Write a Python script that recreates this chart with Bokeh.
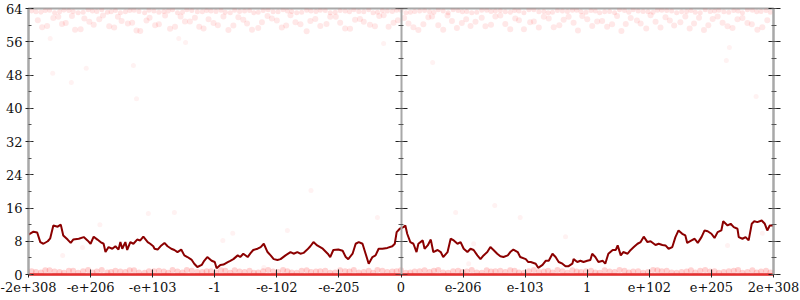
from bokeh.plotting import figure
from bokeh.models import LinearAxis, FixedTicker, SingleIntervalTicker, Range1d
from bokeh.embed import file_html
from bokeh.resources import INLINE

# x axis: float values ordered by bit pattern, shown as 12 equal steps
tick_pos = [-6, -5, -4, -3, -2, -1, 0, 1, 2, 3, 4, 5, 6]
tick_labels = ["-2e+308", "-e+206", "-e+103", "-1", "-e-102", "-e-205", "0",
               "e-206", "e-103", "1", "e+102", "e+205", "2e+308"]

# dark running line
line_x = [-6.00, -5.92, -5.86, -5.81, -5.76, -5.69, -5.65, -5.60, -5.53, -5.48,
          -5.44, -5.37, -5.32, -5.28, -5.19, -5.11, -5.05, -5.00, -4.95, -4.89,
          -4.84, -4.79, -4.76, -4.71, -4.65, -4.60, -4.55, -4.52, -4.49, -4.44,
          -4.41, -4.36, -4.31, -4.25, -4.20, -4.15, -4.08, -4.04, -3.99,
          -3.97, -3.92, -3.86, -3.81, -3.76, -3.70, -3.65, -3.60, -3.54, -3.49,
          -3.44, -3.37, -3.33, -3.28, -3.21, -3.17, -3.12, -3.05, -3.00, -2.97,
          -2.91, -2.86, -2.79, -2.75, -2.70, -2.63, -2.59, -2.54, -2.47, -2.42,
          -2.38, -2.31, -2.26, -2.21, -2.15, -2.10, -2.05, -1.99,
          -1.94, -1.86, -1.78, -1.73, -1.67, -1.62, -1.57, -1.51, -1.46, -1.41,
          -1.35, -1.26, -1.18, -1.14, -1.09, -1.01, -0.94, -0.89, -0.85, -0.78,
          -0.73, -0.68, -0.62, -0.57, -0.52, -0.46, -0.41, -0.36, -0.30, -0.22,
          -0.14, -0.10, -0.07, -0.02, 0.04,
          0.07, 0.10, 0.15, 0.20, 0.25, 0.28, 0.35, 0.38, 0.43, 0.48,
          0.52, 0.59, 0.64, 0.68, 0.75, 0.80, 0.85, 0.91, 0.96, 1.01,
          1.07, 1.12, 1.17, 1.23, 1.28, 1.33, 1.39, 1.44, 1.49, 1.55,
          1.60, 1.65, 1.72, 1.76, 1.81, 1.88, 1.92, 2.01, 2.05,
          2.09, 2.17, 2.21, 2.28, 2.33, 2.38, 2.44, 2.49, 2.54, 2.60,
          2.65, 2.70, 2.76, 2.78, 2.84, 2.89, 2.94, 3.00, 3.05, 3.08,
          3.13, 3.18, 3.25, 3.29, 3.34, 3.41, 3.46, 3.49, 3.54, 3.58,
          3.65, 3.70, 3.75, 3.81, 3.86, 3.91, 3.97, 4.02,
          4.10, 4.15, 4.21, 4.26, 4.31, 4.37, 4.42, 4.47, 4.53, 4.58,
          4.61, 4.68, 4.73, 4.78, 4.84, 4.89, 4.94, 5.00, 5.05, 5.10,
          5.16, 5.19, 5.26, 5.31, 5.36, 5.42, 5.44, 5.50, 5.55, 5.60,
          5.65, 5.69, 5.74, 5.81, 5.86, 5.90, 5.94, 6.00]
line_y = [9.6, 10.3, 10.1, 7.8, 7.4, 8.0, 8.7, 11.8, 11.5, 12.0,
          9.4, 8.4, 7.6, 8.4, 8.6, 9.0, 8.2, 7.4, 9.1, 8.4,
          7.8, 7.4, 5.4, 6.6, 6.2, 6.8, 6.0, 7.8, 6.2, 7.8,
          5.9, 7.8, 7.4, 8.4, 8.2, 9.1, 7.8, 7.4, 6.8,
          6.2, 6.0, 7.0, 7.6, 6.8, 6.2, 5.9, 5.4, 6.0, 4.6,
          4.2, 3.5, 2.6, 1.8, 2.3, 3.3, 4.2, 3.3, 3.0, 1.5,
          2.3, 2.4, 3.0, 3.3, 3.7, 4.6, 4.2, 5.0, 4.2, 5.2,
          5.9, 6.2, 6.6, 7.4, 5.4, 4.6, 3.7, 3.5,
          3.7, 4.6, 5.4, 5.0, 5.4, 5.0, 5.2, 6.0, 6.8, 7.8,
          7.0, 6.2, 5.0, 4.2, 5.9, 6.0, 5.7, 4.2, 3.7, 5.0,
          7.4, 7.8, 7.4, 5.0, 2.6, 4.2, 4.6, 6.2, 6.2, 6.4,
          6.8, 7.4, 10.2, 11.0, 11.4,
          11.8, 9.8, 7.8, 7.4, 5.4, 7.4, 8.2, 6.2, 7.0, 8.4,
          5.4, 5.9, 5.4, 4.2, 5.4, 8.6, 8.2, 7.4, 7.8, 6.2,
          5.4, 6.2, 5.9, 4.6, 3.7, 4.6, 5.4, 6.6, 5.9, 5.0,
          4.4, 4.2, 4.6, 5.4, 6.0, 5.4, 4.2, 3.7, 3.0,
          3.0, 2.6, 1.6, 2.3, 3.3, 3.3, 5.0, 4.2, 3.0, 2.6,
          2.0, 2.0, 2.6, 3.7, 3.0, 3.3, 3.0, 3.3, 3.5, 5.0,
          4.2, 3.0, 3.3, 2.6, 5.0, 5.9, 5.9, 7.0, 4.6, 5.4,
          5.0, 5.9, 6.6, 7.4, 7.8, 9.1, 7.8, 8.0,
          7.1, 7.4, 7.1, 7.0, 6.2, 6.6, 9.0, 10.6, 9.8, 9.4,
          7.6, 8.2, 8.6, 7.6, 9.0, 10.6, 10.4, 9.8, 8.8, 10.2,
          10.6, 12.8, 11.8, 12.2, 11.4, 11.0, 9.0, 8.6, 9.0, 8.2,
          12.2, 12.8, 12.6, 13.0, 12.2, 10.6, 11.8, 11.8]

# faint dots: rows near 0 and near 64
row_x = [-5.95, -5.8, -5.66, -5.5, -5.35, -5.2, -5.04, -4.9, -4.73, -4.6,
         -4.44, -4.3, -4.13, -3.98, -3.82, -3.68, -3.52, -3.37, -3.2, -3.06,
         -2.9, -2.75, -2.6, -2.44, -2.3, -2.14, -1.98, -1.83, -1.68, -1.52,
         -1.37, -1.22, -1.06, -0.9, -0.76, -0.6, -0.45, -0.3, -0.14, 0.0,
         0.15, 0.3, 0.46, 0.6, 0.76, 0.92, 1.06, 1.22, 1.38, 1.52,
         1.68, 1.83, 1.98, 2.14, 2.3, 2.44, 2.6, 2.76, 2.9, 3.06,
         3.2, 3.36, 3.52, 3.67, 3.82, 3.98, 4.13, 4.28, 4.44, 4.6,
         4.74, 4.9, 5.05, 5.2, 5.36, 5.5, 5.66, 5.8, 5.95]
row_x2 = [-5.88, -5.73, -5.58, -5.43, -5.28, -5.12, -4.97, -4.82, -4.67, -4.52,
          -4.37, -4.22, -4.06, -3.9, -3.75, -3.6, -3.45, -3.28, -3.13, -2.98,
          -2.83, -2.68, -2.52, -2.37, -2.22, -2.06, -1.9, -1.76, -1.6, -1.45,
          -1.3, -1.14, -0.98, -0.83, -0.68, -0.52, -0.38, -0.22, -0.07, 0.08,
          0.22, 0.38, 0.53, 0.68, 0.84, 0.99, 1.14, 1.3, 1.45, 1.6,
          1.76, 1.9, 2.06, 2.22, 2.37, 2.52, 2.68, 2.83, 2.98, 3.13,
          3.28, 3.44, 3.6, 3.74, 3.9, 4.06, 4.2, 4.36, 4.52, 4.67,
          4.82, 4.98, 5.12, 5.28, 5.43, 5.58, 5.73, 5.88]
bottom_y = [0.8, 0.5, 1.0, 0.6, 0.9, 0.4, 1.1, 0.7, 0.5, 0.9,
            0.6, 1.0, 0.4, 0.8, 0.7, 1.1, 0.5, 0.9, 0.6, 0.8,
            1.0, 0.4, 0.7, 0.9, 0.5, 1.1, 0.6, 0.8, 0.4, 1.0,
            0.7, 0.9, 0.5, 0.8, 1.1, 0.6, 0.4, 0.9, 0.7, 1.0,
            0.5, 0.8, 0.6, 1.1, 0.4, 0.9, 0.7, 0.5, 1.0, 0.8,
            0.6, 0.9, 0.4, 1.1, 0.7, 0.5, 0.8, 1.0, 0.6, 0.9,
            0.4, 0.7, 1.1, 0.5, 0.8, 0.6, 1.0, 0.9, 0.4, 0.7,
            0.5, 1.1, 0.8, 0.6, 0.9, 0.4, 1.0, 0.7, 0.5]
bottom_y2 = [0.6, 1.0, 0.7, 0.4, 0.9, 0.8, 0.5, 1.1, 0.6, 0.7,
             1.0, 0.5, 0.8, 0.9, 0.4, 0.7, 1.1, 0.6, 0.8, 0.5,
             0.9, 1.0, 0.6, 0.4, 0.8, 0.7, 1.1, 0.5, 0.9, 0.6,
             0.8, 0.4, 1.0, 0.7, 0.5, 0.9, 1.1, 0.6, 0.8, 0.4,
             0.7, 1.0, 0.9, 0.5, 0.8, 0.6, 1.1, 0.4, 0.7, 0.9,
             1.0, 0.5, 0.8, 0.6, 0.9, 1.1, 0.4, 0.7, 0.8, 0.5,
             1.0, 0.6, 0.9, 0.7, 0.4, 1.1, 0.8, 0.5, 0.6, 1.0,
             0.9, 0.7, 0.4, 0.8, 1.1, 0.6, 0.5, 0.9]
top_row_y = [63.4, 63.1, 63.6, 63.2, 63.5, 63.0, 63.7, 63.3, 63.1, 63.5,
             63.2, 63.6, 63.0, 63.4, 63.3, 63.7, 63.1, 63.5, 63.2, 63.4,
             63.6, 63.0, 63.3, 63.5, 63.1, 63.7, 63.2, 63.4, 63.0, 63.6,
             63.3, 63.5, 63.1, 63.4, 63.7, 63.2, 63.0, 63.5, 63.3, 63.6,
             63.1, 63.4, 63.2, 63.7, 63.0, 63.5, 63.3, 63.1, 63.6, 63.4,
             63.2, 63.5, 63.0, 63.7, 63.3, 63.1, 63.4, 63.6, 63.2, 63.5,
             63.0, 63.3, 63.7, 63.1, 63.4, 63.2, 63.6, 63.5, 63.0, 63.3,
             63.1, 63.7, 63.4, 63.2, 63.5, 63.0, 63.6, 63.3, 63.1]
top_row_y2 = [63.2, 63.5, 63.0, 63.6, 63.3, 63.1, 63.4, 63.7, 63.2, 63.0,
              63.5, 63.3, 63.6, 63.1, 63.4, 63.0, 63.7, 63.2, 63.5, 63.3,
              63.1, 63.6, 63.4, 63.0, 63.5, 63.2, 63.7, 63.3, 63.1, 63.4,
              63.6, 63.0, 63.5, 63.2, 63.3, 63.7, 63.1, 63.4, 63.6, 63.0,
              63.3, 63.5, 63.1, 63.4, 63.7, 63.2, 63.0, 63.6, 63.3, 63.5,
              63.1, 63.4, 63.7, 63.2, 63.0, 63.5, 63.3, 63.6, 63.1, 63.4,
              63.2, 63.0, 63.5, 63.7, 63.3, 63.1, 63.6, 63.4, 63.2, 63.5,
              63.0, 63.3, 63.6, 63.1, 63.4, 63.7, 63.2, 63.5]

cloud_x = [-5.85, -5.7, -5.52, -5.4, -5.25, -5.1, -4.95, -4.8, -4.62, -4.5,
           -4.33, -4.2, -4.05, -3.9, -3.72, -3.55, -3.4, -3.25, -3.1, -2.95,
           -2.78, -2.62, -2.48, -2.3, -2.15, -2.0, -1.85, -1.7, -1.52, -1.38,
           -1.2, -1.05, -0.9, -0.74, -0.6, -0.42, -0.28, -0.12, 0.05, 0.2,
           0.36, 0.5, 0.68, 0.82, 0.98, 1.12, 1.3, 1.45, 1.6, 1.76,
           1.9, 2.08, 2.22, 2.38, 2.55, 2.7, 2.85, 3.0, 3.16, 3.32,
           3.48, 3.62, 3.8, 3.95, 4.1, 4.26, 4.4, 4.58, 4.72, 4.88,
           5.02, 5.18, 5.34, 5.5, 5.65, 5.82]
cloud_y = [61.2, 59.8, 62.0, 60.5, 58.9, 61.6, 60.1, 62.3, 59.4, 61.0,
           60.6, 58.6, 61.8, 60.2, 59.1, 62.1, 60.9, 59.6, 61.4, 60.0,
           58.8, 61.9, 60.4, 59.3, 62.2, 61.1, 59.9, 60.7, 58.5, 61.5,
           60.3, 62.0, 59.2, 61.3, 60.8, 59.7, 62.4, 60.6, 61.7, 59.5,
           60.2, 62.1, 58.9, 61.0, 60.5, 59.8, 61.8, 60.1, 62.3, 59.0,
           61.2, 60.7, 59.4, 61.6, 60.0, 62.0, 58.7, 61.4, 60.9, 59.6,
           62.2, 60.3, 61.1, 59.2, 60.8, 61.9, 59.9, 62.1, 60.4, 58.8,
           61.5, 60.6, 59.3, 61.7, 60.2, 59.5]
cloud_x2 = [-5.78, -5.6, -5.46, -5.3, -5.16, -5.02, -4.86, -4.7, -4.56, -4.4,
            -4.26, -4.1, -3.96, -3.8, -3.64, -3.48, -3.32, -3.18, -3.02, -2.86,
            -2.7, -2.54, -2.4, -2.24, -2.08, -1.92, -1.78, -1.62, -1.46, -1.3,
            -1.14, -0.98, -0.82, -0.66, -0.5, -0.35, -0.2, -0.05, 0.12, 0.28,
            0.44, 0.6, 0.75, 0.9, 1.05, 1.2, 1.36, 1.52, 1.68, 1.84,
            1.98, 2.14, 2.3, 2.46, 2.62, 2.78, 2.92, 3.08, 3.24, 3.4,
            3.55, 3.7, 3.86, 4.02, 4.18, 4.33, 4.5, 4.65, 4.8, 4.95,
            5.1, 5.26, 5.42, 5.58, 5.74, 5.9]
cloud_y2 = [59.5, 61.7, 60.3, 62.2, 59.0, 60.8, 61.4, 59.7, 62.0, 60.4,
            58.7, 61.1, 60.0, 62.3, 59.6, 60.9, 61.8, 59.2, 60.5, 62.1,
            59.9, 61.3, 58.9, 60.7, 61.6, 59.4, 62.4, 60.2, 61.0, 59.8,
            62.0, 60.6, 59.1, 61.5, 60.1, 62.2, 59.6, 61.2, 60.4, 58.8,
            61.9, 60.0, 62.3, 59.3, 61.4, 60.8, 59.7, 62.1, 60.3, 61.6,
            59.0, 60.9, 62.0, 59.5, 61.3, 60.6, 62.2, 59.8, 61.0, 60.2,
            58.6, 61.7, 60.4, 62.4, 59.4, 61.1, 60.7, 59.2, 61.8, 60.0,
            62.1, 59.7, 61.4, 60.5, 58.9, 61.2]

mid_x = [-5.61, -5.31, -5.07, -4.31, -4.26, -5.65, -3.47, -3.58, -4.07, -3.65,
         -4.85, -5.45, -5.13, -1.45, -0.38, 0.88, 1.09, 1.51, 5.26, 5.82,
         -2.71, -2.87, -2.21, -1.83, 1.92, 1.17, 2.65, 0.51, -0.28, 5.29,
         5.24, 5.72]
mid_y = [48.4, 46.2, 49.6, 50.3, 42.3, 56.8, 55.8, 56.8, 14.7, 14.9,
         12.0, 4.6, 6.5, 20.2, 13.7, 14.9, 2.6, 16.6, 7.0, 9.9,
         9.9, 8.2, 1.7, 10.6, 13.7, 7.4, 9.1, 51.0, 55.6, 54.6,
         51.5, 42.8]

FONT = "DejaVu Serif"
AXIS_GRAY = "#a8a8a8"
TICK = "#222222"
DOT = "#ff2020"

p = figure(width=800, height=300, output_backend="svg", toolbar_location=None,
           x_range=Range1d(-6, 6), y_range=Range1d(0, 64),
           min_border_left=28, min_border_right=27, min_border_top=8,
           min_border_bottom=26)
p.grid.visible = False
p.outline_line_color = AXIS_GRAY
p.outline_line_width = 2
p.background_fill_color = "white"
p.border_fill_color = "white"

# x axis
xa = p.xaxis[0]
xa.ticker = FixedTicker(ticks=tick_pos, minor_ticks=[])
xa.major_label_overrides = {t: l for t, l in zip(tick_pos, tick_labels)}
xa.axis_line_color = "#e83030"
xa.axis_line_width = 2.5
xa.major_tick_in = 5
xa.major_tick_out = 3
xa.major_tick_line_color = TICK
xa.major_label_text_font = FONT
xa.major_label_text_font_size = "13px"
xa.major_label_text_color = "#111111"
xa.major_label_standoff = 4

def style_y(ax, tin, tout, mtin, mtout, labels=True):
    ax.ticker = SingleIntervalTicker(interval=8, num_minor_ticks=2)
    ax.axis_line_color = AXIS_GRAY
    ax.axis_line_width = 2
    ax.major_tick_in = tin
    ax.major_tick_out = tout
    ax.minor_tick_in = mtin
    ax.minor_tick_out = mtout
    ax.major_tick_line_color = TICK
    ax.minor_tick_line_color = "#555555"
    ax.major_label_text_font = FONT
    ax.major_label_text_font_size = "13px"
    ax.major_label_text_color = "#111111" if labels else None
    ax.major_label_standoff = 3

style_y(p.yaxis[0], 5, 3, 3, 0)

right_ax = LinearAxis()
style_y(right_ax, 5, 7, 2, 3, labels=False)
p.add_layout(right_ax, "right")

center_ax = LinearAxis(fixed_location=0)
style_y(center_ax, 6, 6, 2, 3, labels=False)
p.add_layout(center_ax, "left")

# faint dots
p.scatter(row_x, bottom_y, size=6, color=DOT, alpha=0.2, line_width=0)
p.scatter(row_x2, bottom_y2, size=6, color=DOT, alpha=0.2, line_width=0)
p.scatter(row_x, top_row_y, size=5, color=DOT, alpha=0.12, line_width=0)
p.scatter(row_x2, top_row_y2, size=5, color=DOT, alpha=0.12, line_width=0)
p.scatter(cloud_x, cloud_y, size=6, color=DOT, alpha=0.1, line_width=0)
p.scatter(cloud_x2, cloud_y2, size=6, color=DOT, alpha=0.1, line_width=0)
p.scatter(mid_x, mid_y, size=5, color=DOT, alpha=0.06, line_width=0)

# dark line
p.line(line_x, line_y, line_color="#8b0000", line_width=2)

open("out.html", "w").write(file_html(p, INLINE))
